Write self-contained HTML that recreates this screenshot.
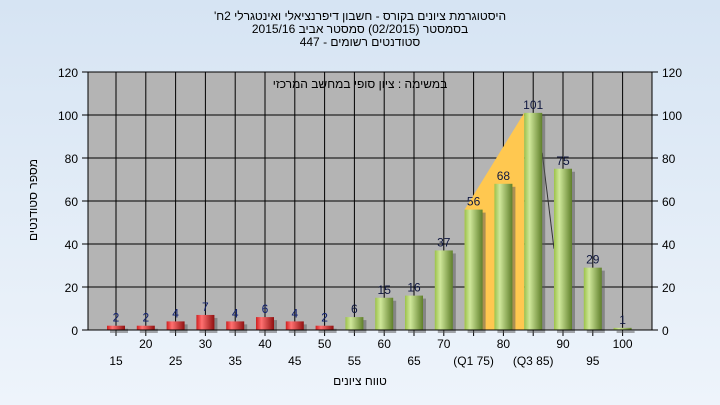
<!DOCTYPE html>
<html><head><meta charset="utf-8"><style>
body{margin:0;width:720px;height:405px;overflow:hidden;background:linear-gradient(#d6e4f3,#eef4fb);font-family:"Liberation Sans",sans-serif}
</style></head><body>
<svg width="720" height="405" style="position:absolute;left:0;top:0">
<defs>
<linearGradient id="gg" x1="0" x2="1"><stop offset="0" stop-color="#9cc24a"/><stop offset="0.3" stop-color="#cfe79a"/><stop offset="1" stop-color="#5f7f2a"/></linearGradient>
<linearGradient id="rg" x1="0" x2="1"><stop offset="0" stop-color="#d02020"/><stop offset="0.3" stop-color="#ff7070"/><stop offset="1" stop-color="#901010"/></linearGradient>
</defs>
<g font-size="12" text-anchor="middle" fill="#000">
<text x="360" y="20">'היסטוגרמת ציונים בקורס - חשבון דיפרנציאלי ואינטגרלי 2ח</text>
<text x="360" y="33">בסמסטר  (02/2015)  סמסטר אביב 2015/16</text>
<text x="360" y="46">סטודנטים רשומים - 447</text>
</g>
<rect x="88" y="72" width="564" height="258" fill="#b4b4b4"/>
<g id="grid"></g>
<g id="marks"></g>
<rect x="88" y="72" width="564" height="258" fill="none" stroke="#000"/>
<text x="360" y="88" font-size="12" text-anchor="middle">במשימה : ציון סופי במחשב המרכזי</text>
<g id="axes" font-size="12"></g>
<text transform="translate(37,200) rotate(-90)" font-size="12" text-anchor="middle">מספר סטודנטים</text>
<text x="360" y="385" font-size="12" text-anchor="middle">טווח ציונים</text>
</svg>
<script>
const categories=["15","20","25","30","35","40","45","50","55","60","65","70","(Q1 75)","80","(Q3 85)","90","95","100"];
const counts=[2,2,4,7,4,6,4,2,6,15,16,37,56,68,101,75,29,1];
const yTicks=[0,20,40,60,80,100,120];
const q1Index=12, q3Index=14, redCount=8;
const NS="http://www.w3.org/2000/svg";
const y0=330,yTop=72,yMax=120;
function ys(v){return y0-(v/yMax)*(y0-yTop);}
function xs(i){return 116+i*29.8;}
function mk(t,a,p){const e=document.createElementNS(NS,t);for(const k in a)e.setAttribute(k,a[k]);p.appendChild(e);return e;}
const grid=document.getElementById('grid'),marks=document.getElementById('marks'),axes=document.getElementById('axes');
yTicks.forEach(v=>{
 const l=mk('line',{x1:88,x2:652,y1:ys(v),y2:ys(v),stroke:'#000','stroke-width':1},grid);
 
 
 [[80,84,'end'],[660,664,'start']].forEach(([tx,lx,an])=>{
  mk('line',{x1:an=='end'?82:652,x2:an=='end'?88:658,y1:ys(v),y2:ys(v),stroke:'#000'},axes);
  const t=mk('text',{x:an=='end'?78:662,y:ys(v)+5,'text-anchor':an},axes);t.textContent=v;
  
  
 });
});
categories.forEach((c,i)=>{
 const l=mk('line',{x1:xs(i),x2:xs(i),y1:72,y2:336,stroke:'#000'},grid);
 
 
 const t=mk('text',{x:xs(i),y:i%2==0?365:348,'text-anchor':'middle'},axes);t.textContent=c;
 
 
});
const bw=18;
const p=mk('polygon',{points:`${xs(q1Index)-bw/2},${ys(counts[q1Index])} ${xs(q3Index)-bw/2},${ys(counts[q3Index])} ${xs(q3Index)-bw/2},${y0} ${xs(q1Index)-bw/2},${y0}`,fill:'#ffc850'},marks);


const ln=mk('line',{x1:xs(q3Index)+bw/2,y1:ys(counts[q3Index])+40,x2:xs(q3Index+1)-bw/2,y2:ys(counts[q3Index+1])+80,stroke:'#333'},marks);


counts.forEach((v,i)=>{
 const x=xs(i)-bw/2,y=ys(v);
 mk('rect',{x:x+3,y:y+3,width:bw,height:y0-y,fill:'#555',opacity:0.5},marks);
 const r=mk('rect',{x:x,y:y,width:bw,height:Math.max(y0-y,1),fill:i<redCount?'url(#rg)':'url(#gg)'},marks);
 
 
 const t=mk('text',{x:xs(i),y:y-4,'text-anchor':'middle','font-size':12,fill:i<redCount?'#102070':'#101840'},marks);t.textContent=v;
 
 
});
</script>
</body></html>
